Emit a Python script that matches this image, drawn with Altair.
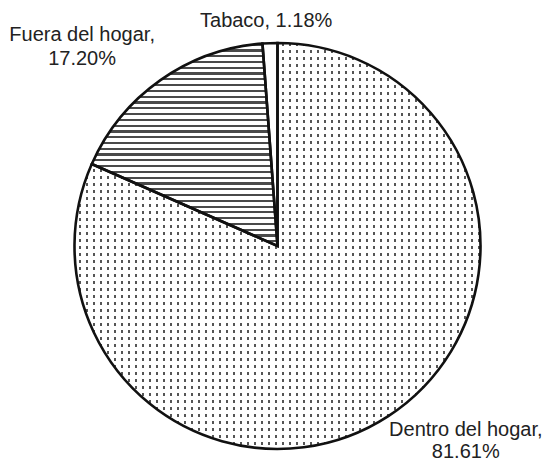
import altair as alt
import pandas as pd

# ---- data ----
categories = ["Dentro del hogar", "Fuera del hogar", "Tabaco"]
values = [81.61, 17.20, 1.18]
order = [1, 2, 3]

df = pd.DataFrame({"categoria": categories, "valor": values, "orden": order})
total = sum(values)

# ---- layout / style ----
W, H = 536, 456
CX, CY = 269.5, 238
R = 203
FONT = "Liberation Sans"
FS = 20
LH = 24
TXT = "#222222"


def stripes(n, duty, on, off, vertical):
    stops = []
    for i in range(n):
        a = i / n
        b = (i + duty) / n
        c = (i + 1) / n
        stops += [
            alt.GradientStop(offset=a, color=on),
            alt.GradientStop(offset=b, color=on),
            alt.GradientStop(offset=b, color=off),
            alt.GradientStop(offset=c, color=off),
        ]
    if vertical:
        return alt.LinearGradient(gradient="linear", stops=stops, x1=0, x2=1, y1=0, y2=0)
    return alt.LinearGradient(gradient="linear", stops=stops, x1=0, x2=0, y1=0, y2=1)


# dotted texture (two crossed stripe layers), wavy texture (horizontal bands)
dots_rows = stripes(58, 0.36, "#555555", "#ffffff", vertical=False)
dots_cols = stripes(58, 0.70, "#ffffff", "rgba(255,255,255,0)", vertical=True)
wave_rows = stripes(35, 0.38, "#4a4a4a", "#ffffff", vertical=False)

base = alt.Chart(df).transform_window(
    fin="sum(valor)", sort=[alt.SortField("orden")], frame=[None, 0]
).transform_calculate(
    inicio="datum.fin - datum.valor",
    medio="datum.fin - datum.valor / 2",
    etiqueta="datum.categoria + ',' + (datum.valor < 5 ? ' ' : '\\n') + format(datum.valor, '.2f') + '%'",
)

theta_enc = alt.Theta("inicio:Q", scale=alt.Scale(domain=[0, total]))
arc_enc = dict(theta=theta_enc, theta2="fin:Q", x=alt.value(CX), y=alt.value(CY))

dentro_a = base.mark_arc(radius=R, fill=dots_rows).encode(**arc_enc).transform_filter("datum.orden == 1")
dentro_b = base.mark_arc(radius=R, fill=dots_cols).encode(**arc_enc).transform_filter("datum.orden == 1")
fuera = base.mark_arc(radius=R, fill=wave_rows).encode(**arc_enc).transform_filter("datum.orden == 2")
tabaco = base.mark_arc(radius=R, fill="#ffffff").encode(**arc_enc).transform_filter("datum.orden == 3")
outline = base.mark_arc(radius=R, filled=False, stroke="#111111", strokeWidth=2.6, strokeJoin="miter").encode(**arc_enc)


def label(idx, radius, dx, dy=0, lh=LH):
    return base.mark_text(
        radius=radius, dx=dx, dy=dy, font=FONT, fontSize=FS, color=TXT,
        lineBreak="\n", lineHeight=lh, align="center", baseline="middle",
    ).encode(
        theta=alt.Theta("medio:Q", stack=None),
        text="etiqueta:N",
        x=alt.value(CX),
        y=alt.value(CY),
    ).transform_filter(f"datum.orden == {idx}")


chart = alt.layer(
    dentro_a, dentro_b, fuera, tabaco, outline,
    label(1, 246, 54, -22, 22),
    label(2, 240, -57, -15),
    label(3, 225, -3, 0),
).properties(
    width=W, height=H, autosize="none", padding=0
).configure_view(strokeWidth=0)

chart.save("out.html", embed_options={"renderer": "svg", "actions": False})
